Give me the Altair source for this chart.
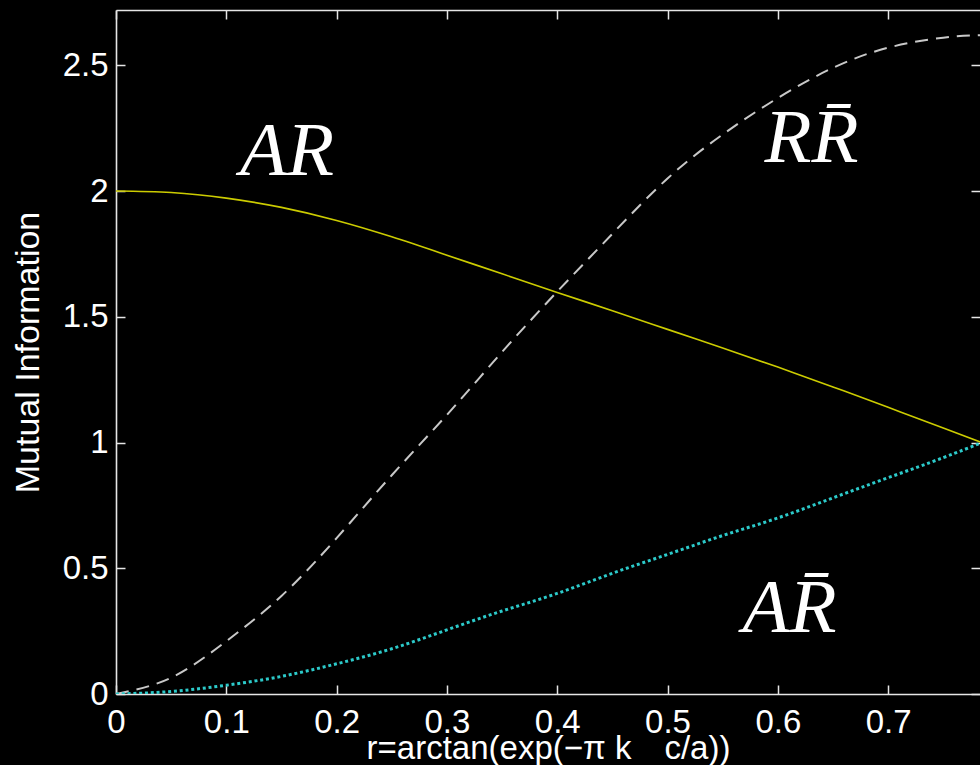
import altair as alt
import pandas as pd

# Sample points along r (radians), up to r = pi/4
r_vals = [0.0, 0.05, 0.10, 0.15, 0.20, 0.25, 0.30, 0.35, 0.40,
          0.45, 0.50, 0.55, 0.60, 0.65, 0.70, 0.75, 0.785]

# Mutual information of each bipartition
mi_ar = [2.0, 1.994, 1.972, 1.935, 1.883, 1.818, 1.745, 1.671, 1.597,
         1.524, 1.45, 1.376, 1.30, 1.221, 1.14, 1.058, 1.0]
mi_rrbar = [0.0, 0.065, 0.21, 0.39, 0.62, 0.87, 1.11, 1.36, 1.60,
            1.83, 2.05, 2.225, 2.37, 2.49, 2.57, 2.61, 2.62]
mi_arbar = [0.0, 0.01, 0.035, 0.07, 0.12, 0.18, 0.255, 0.33, 0.40,
            0.48, 0.555, 0.63, 0.70, 0.78, 0.86, 0.94, 1.0]

# Tick values
x_ticks = [0, 0.1, 0.2, 0.3, 0.4, 0.5, 0.6, 0.7]
y_ticks = [0, 0.5, 1, 1.5, 2, 2.5]

# Curve labels and their anchor points (left edge, text baseline)
label_text = ["AR", "RR\u0304", "AR\u0304"]
label_r = [0.1124, 0.588, 0.568]
label_mi = [2.063, 2.114, 0.246]

df_ar = pd.DataFrame({"r": r_vals, "mi": mi_ar})
df_rr = pd.DataFrame({"r": r_vals, "mi": mi_rrbar})
df_arb = pd.DataFrame({"r": r_vals, "mi": mi_arbar})
df_lab = pd.DataFrame({"r": label_r, "mi": label_mi, "txt": label_text})

AX_COLOR = "#e6e6e6"
SANS = "Liberation Sans"
xs = alt.Scale(domain=[0, 0.7833], nice=False, zero=False)
ys = alt.Scale(domain=[0, 2.72], nice=False, zero=False)

common = dict(grid=False, domainColor=AX_COLOR, domainWidth=1.6,
              tickColor=AX_COLOR, tickWidth=1.5)

# bottom axis: frame line, tick labels and title
x_main = alt.Axis(orient="bottom", values=x_ticks, ticks=False, domain=True,
                  labels=True, labelColor="white", labelFont=SANS, labelFontSize=33,
                  labelPadding=12, labelAngle=0, labelFlush=False, labelOverlap=False,
                  format="~g",
                  title="r=arctan(exp(\u2212\u03c0 k\u2002\u2002c/a))",
                  titleColor="white", titleFont=SANS, titleFontSize=33,
                  titleFontWeight="normal", titleBaseline="alphabetic", titleY=64,
                  **common)
# inward ticks on the bottom edge
x_in = alt.Axis(orient="bottom", values=x_ticks, offset=-9, tickSize=9, ticks=True,
                domain=False, labels=False, title=None, **common)
# top frame line
x_top = alt.Axis(orient="top", values=x_ticks, ticks=False, domain=True,
                 labels=False, title=None, **common)
# inward ticks on the top edge
x_top_in = alt.Axis(orient="top", values=x_ticks, offset=-9, tickSize=9, ticks=True,
                    domain=False, labels=False, title=None, **common)

y_main = alt.Axis(orient="left", values=y_ticks, ticks=False, domain=True,
                  labels=True, labelColor="white", labelFont=SANS, labelFontSize=33,
                  labelPadding=8, labelFlush=False, labelOverlap=False, format="~g",
                  title="Mutual Information", titleColor="white", titleFont=SANS,
                  titleFontSize=34, titleFontWeight="normal", titleX=-88, titleY=342,
                  titleAngle=270, titleBaseline="middle", titleAlign="center",
                  **common)
y_in = alt.Axis(orient="left", values=y_ticks, offset=-9, tickSize=9, ticks=True,
                domain=False, labels=False, title=None, **common)
y_right_in = alt.Axis(orient="right", values=y_ticks, offset=-9, tickSize=9, ticks=True,
                      domain=False, labels=False, title=None, **common)

rr_line = alt.Chart(df_rr).mark_line(
    color="#c8c8c8", strokeWidth=2, strokeDash=[13, 8], interpolate="natural", clip=True
).encode(
    x=alt.X("r:Q", scale=xs, axis=x_in),
    y=alt.Y("mi:Q", scale=ys, axis=y_in),
)

ar_line = alt.Chart(df_ar).mark_line(
    color="#cccc00", strokeWidth=1.6, interpolate="natural", clip=True
).encode(
    x=alt.X("r:Q", scale=xs, axis=x_main),
    y=alt.Y("mi:Q", scale=ys, axis=y_main),
)

arb_line = alt.Chart(df_arb).mark_line(
    color="#2ccaca", strokeWidth=3, strokeDash=[3, 2.8], interpolate="natural", clip=True
).encode(
    x=alt.X("r:Q", scale=xs, axis=x_top),
    y=alt.Y("mi:Q", scale=ys, axis=y_right_in),
)

labels = alt.Chart(df_lab).mark_text(
    align="left", baseline="alphabetic", font="Liberation Serif",
    fontStyle="italic", fontSize=77, color="white"
).encode(
    x=alt.X("r:Q", scale=xs, axis=x_top_in),
    y=alt.Y("mi:Q", scale=ys, axis=None),
    text="txt:N",
)

chart = alt.layer(rr_line, ar_line, arb_line, labels).resolve_axis(
    x="independent", y="independent"
).properties(
    width=864,
    height=684,
    background="black",
    autosize=alt.AutoSizeParams(type="none"),
    padding={"left": 116, "top": 10, "right": 0, "bottom": 71},
).configure_view(stroke=None)

chart.save("out.html", embed_options={"renderer": "svg", "actions": False})
